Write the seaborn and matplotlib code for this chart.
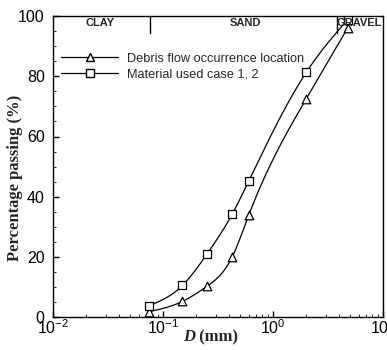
"""Grain size distribution: debris flow site vs. test material."""

import matplotlib
matplotlib.use("Agg")
import matplotlib.pyplot as plt
import matplotlib.transforms as mtransforms
from matplotlib.lines import Line2D
from matplotlib.ticker import MultipleLocator, LogLocator, NullFormatter
import numpy as np
import pandas as pd
import seaborn as sns

# sieve sizes (mm) and percentage passing
SIEVE_MM = [0.075, 0.15, 0.25, 0.425, 0.6, 2.0, 4.75]
DEBRIS_SITE = [1.8, 5.2, 10.2, 20.0, 33.8, 72.5, 96.0]
MATERIAL_CASE = [3.8, 10.5, 20.9, 34.2, 45.2, 81.3, 98.8]

SERIES = ["Debris flow occurrence location", "Material used case 1, 2"]
MARKERS = {"Debris flow occurrence location": "^", "Material used case 1, 2": "s"}

# soil classification boundaries (mm) and label positions
BOUNDARIES = [0.076, 3.8]
ZONE_LABELS = ["CLAY", "SAND", "GRAVEL"]
ZONE_LABEL_X = [0.027, 0.56, 6.1]


def natural_spline(x, y, xs):
    """Natural cubic spline through the measured points (for the drawn curve)."""
    x = np.asarray(x, float)
    y = np.asarray(y, float)
    n = len(x)
    h = np.diff(x)
    A = np.zeros((n, n))
    r = np.zeros(n)
    A[0, 0] = A[-1, -1] = 1
    for i in range(1, n - 1):
        A[i, i - 1] = h[i - 1]
        A[i, i] = 2 * (h[i - 1] + h[i])
        A[i, i + 1] = h[i]
        r[i] = 6 * ((y[i + 1] - y[i]) / h[i] - (y[i] - y[i - 1]) / h[i - 1])
    M = np.linalg.solve(A, r)
    idx = np.clip(np.searchsorted(x, xs) - 1, 0, n - 2)
    a = x[idx + 1] - xs
    b = xs - x[idx]
    hi = h[idx]
    return (M[idx] * a**3 / (6 * hi) + M[idx + 1] * b**3 / (6 * hi)
            + (y[idx] / hi - M[idx] * hi / 6) * a
            + (y[idx + 1] / hi - M[idx + 1] * hi / 6) * b)


points = pd.DataFrame({
    "size": SIEVE_MM * 2,
    "passing": DEBRIS_SITE + MATERIAL_CASE,
    "series": [SERIES[0]] * len(SIEVE_MM) + [SERIES[1]] * len(SIEVE_MM),
})

sns.set_theme(style="ticks")
plt.rcParams["font.family"] = ["Liberation Sans", "DejaVu Sans"]
plt.rcParams["mathtext.default"] = "regular"

fig = plt.figure(figsize=(3.87, 3.5), dpi=100)
ax = fig.add_axes([0.137, 0.094, 0.853, 0.86])

logx = np.log10(SIEVE_MM)
for name, values in zip(SERIES, [DEBRIS_SITE, MATERIAL_CASE]):
    xs = np.linspace(logx[0], logx[-1], 400)
    curve = pd.DataFrame({"size": 10**xs,
                          "passing": natural_spline(logx, values, xs)})
    sns.lineplot(data=curve, x="size", y="passing", color="black", lw=0.9,
                 ax=ax, legend=False)
    sub = points[points["series"] == name]
    sns.scatterplot(data=sub, x="size", y="passing", marker=MARKERS[name],
                    s=38, facecolor="white", edgecolor="black", linewidth=0.9,
                    ax=ax, legend=False, zorder=3)

ax.set_xscale("log")
ax.set_xlim(0.01, 10)
ax.set_ylim(0, 100)
ax.yaxis.set_major_locator(MultipleLocator(20))
ax.yaxis.set_minor_locator(MultipleLocator(5))
ax.xaxis.set_minor_locator(LogLocator(base=10, subs=np.arange(2, 10)))
ax.xaxis.set_minor_formatter(NullFormatter())
ax.tick_params(which="both", direction="in", top=False, right=False,
               labelsize=11.5, colors="black")
ax.tick_params(axis="x", pad=1)
ax.tick_params(axis="y", pad=6)
ax.tick_params(which="major", length=4, width=1)
ax.tick_params(which="minor", length=2, width=0.6)
for sp in ax.spines.values():
    sp.set_color("black")
    sp.set_linewidth(1)
ax.set_xlabel("")
ax.set_ylabel("")

trans = mtransforms.blended_transform_factory(ax.transData, ax.transAxes)
for b in BOUNDARIES:
    ax.plot([b, b], [1.0, 0.945], color="black", lw=1, transform=trans)
for lab, xpos in zip(ZONE_LABELS, ZONE_LABEL_X):
    ax.text(xpos, 0.977, lab, transform=trans, ha="center", va="center",
            fontsize=8, fontweight="bold")

handles = [Line2D([], [], color="black", lw=0.9, marker=MARKERS[n],
                  markerfacecolor="white", markeredgecolor="black",
                  markersize=6) for n in SERIES]
ax.legend(handles, SERIES, loc="upper left", bbox_to_anchor=(0.01, 0.895),
          frameon=False, fontsize=9.2, handlelength=4.4, handletextpad=0.7,
          borderaxespad=0, labelspacing=0.3)

fig.text(15 / 387, 1 - 178 / 350, "Percentage passing (%)", rotation=90,
         ha="center", va="center", family="Liberation Serif",
         fontweight="bold", fontsize=12)
fig.text(195 / 387, 1 - 337 / 350, "D", ha="right", va="center",
         family="Liberation Serif", fontweight="bold", style="italic",
         fontsize=12)
fig.text(195 / 387, 1 - 337 / 350, " (mm)", ha="left", va="center",
         family="Liberation Serif", fontweight="bold", fontsize=12)

fig.savefig("out.png", dpi=100)
